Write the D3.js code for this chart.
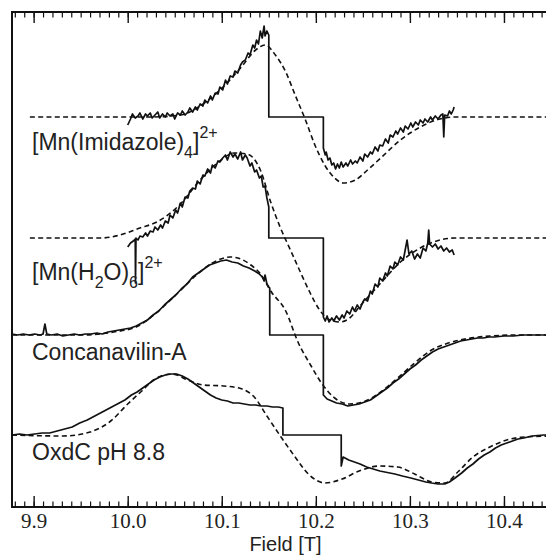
<!DOCTYPE html>
<html>
<head>
<meta charset="utf-8">
<script src="https://cdn.jsdelivr.net/npm/d3@7"></script>
<style>
  html, body { margin: 0; padding: 0; background: #fff; }
  svg { display: block; }
</style>
</head>
<body>
<svg id="chart" width="546" height="556"></svg>
<script>
// Field axis (tesla)
const fieldDomain = [9.877, 10.45];
const majorTicks = [9.9, 10.0, 10.1, 10.2, 10.3, 10.4];
const tickLabels = ["9.9", "10.0", "10.1", "10.2", "10.3", "10.4"];
const axisTitle = "Field [T]";

// Vertical offset of each spectrum (signal units)
const offsets = [3.90, 2.69, 1.72, 0.72];

// [Mn(Imidazole)4]2+ : measured [field, signal]
const imidazoleMeasured = [
  [10.000,-0.08],[10.003,-0.02],[10.005,0.03],[10.008,-0.01],[10.011,0.01],[10.013,0.04],
  [10.016,-0.02],[10.019,0.03],[10.021,0.01],[10.024,0.04],[10.026,-0.01],[10.029,0.02],
  [10.032,0.05],[10.034,-0.01],[10.037,0.03],[10.040,0.00],[10.042,0.04],[10.045,0.01],
  [10.048,0.03],[10.050,-0.02],[10.053,0.04],[10.056,0.02],[10.058,0.06],[10.061,0.02],
  [10.064,0.05],[10.066,0.09],[10.069,0.05],[10.072,0.10],[10.074,0.07],[10.077,0.13],
  [10.080,0.11],[10.082,0.17],[10.085,0.14],[10.088,0.21],[10.090,0.17],[10.093,0.24],
  [10.096,0.23],[10.098,0.30],[10.101,0.27],[10.104,0.37],[10.106,0.33],[10.109,0.41],
  [10.112,0.40],[10.114,0.46],[10.117,0.44],[10.120,0.52],[10.122,0.55],[10.125,0.57],
  [10.128,0.64],[10.130,0.62],[10.133,0.72],[10.135,0.69],[10.137,0.77],[10.139,0.73],
  [10.141,0.86],[10.143,0.79],[10.145,0.91],[10.146,0.81],[10.148,0.86],[10.150,0.82],
  [10.150,0.00],[10.208,0.00],
  [10.208,-0.31],[10.210,-0.38],[10.211,-0.35],[10.213,-0.43],[10.215,-0.41],[10.217,-0.48],
  [10.219,-0.46],[10.221,-0.52],[10.223,-0.47],[10.225,-0.51],[10.227,-0.45],[10.229,-0.50],
  [10.232,-0.46],[10.234,-0.49],[10.237,-0.43],[10.239,-0.47],[10.242,-0.44],[10.244,-0.46],
  [10.247,-0.40],[10.250,-0.44],[10.252,-0.37],[10.255,-0.40],[10.258,-0.35],[10.260,-0.37],
  [10.263,-0.30],[10.266,-0.34],[10.268,-0.28],[10.271,-0.29],[10.274,-0.22],[10.277,-0.26],
  [10.279,-0.18],[10.282,-0.20],[10.285,-0.14],[10.287,-0.17],[10.290,-0.11],[10.293,-0.15],
  [10.295,-0.09],[10.298,-0.12],[10.301,-0.06],[10.303,-0.10],[10.306,-0.05],[10.309,-0.08],
  [10.311,-0.03],[10.314,-0.06],[10.316,-0.02],[10.319,-0.05],[10.322,0.00],[10.324,-0.03],
  [10.327,0.01],[10.330,-0.02],[10.333,0.02],[10.335,0.03],[10.336,-0.20],[10.337,0.02],
  [10.340,0.01],[10.342,0.06],[10.344,0.03],[10.346,0.07],[10.347,0.10]
];
// [Mn(Imidazole)4]2+ : simulation
const imidazoleSimulated = [
  [9.896,0],[10.000,0],[10.024,0.00],[10.056,0.02],[10.077,0.11],[10.098,0.27],[10.120,0.49],
  [10.136,0.67],[10.146,0.72],[10.157,0.62],[10.168,0.45],[10.178,0.22],[10.189,-0.03],
  [10.199,-0.28],[10.210,-0.49],[10.220,-0.61],[10.229,-0.66],[10.242,-0.63],[10.255,-0.53],
  [10.269,-0.41],[10.290,-0.23],[10.311,-0.10],[10.332,-0.02],[10.348,0],[10.45,0]
];

// [Mn(H2O)6]2+ : measured
const aquaMeasured = [
  [10.000,-0.09],[10.003,-0.05],[10.006,-0.03],[10.008,-0.01],[10.0083,-0.45],[10.0088,0.00],
  [10.011,-0.02],[10.013,0.02],[10.016,0.01],[10.019,0.05],[10.021,0.02],[10.024,0.07],
  [10.027,0.06],[10.029,0.11],[10.032,0.08],[10.035,0.13],[10.037,0.10],[10.040,0.17],
  [10.043,0.15],[10.045,0.23],[10.048,0.20],[10.051,0.28],[10.053,0.25],[10.056,0.35],
  [10.058,0.31],[10.061,0.41],[10.064,0.40],[10.066,0.47],[10.069,0.50],[10.072,0.49],
  [10.074,0.57],[10.077,0.54],[10.080,0.63],[10.082,0.62],[10.085,0.69],[10.088,0.65],
  [10.090,0.73],[10.093,0.70],[10.096,0.77],[10.098,0.76],[10.101,0.80],[10.104,0.83],
  [10.106,0.78],[10.109,0.86],[10.112,0.81],[10.114,0.84],[10.117,0.79],[10.120,0.86],
  [10.122,0.78],[10.125,0.83],[10.127,0.80],[10.130,0.72],[10.132,0.75],[10.135,0.66],
  [10.137,0.68],[10.140,0.60],[10.142,0.62],[10.144,0.51],[10.146,0.52],[10.148,0.40],
  [10.150,0.31],[10.150,0.00],[10.208,0.00],
  [10.208,-0.79],[10.210,-0.83],[10.212,-0.78],[10.214,-0.84],[10.217,-0.80],[10.219,-0.83],
  [10.222,-0.78],[10.225,-0.82],[10.228,-0.77],[10.230,-0.80],[10.233,-0.73],[10.236,-0.76],
  [10.239,-0.69],[10.241,-0.73],[10.244,-0.67],[10.247,-0.71],[10.250,-0.64],[10.252,-0.61],
  [10.255,-0.63],[10.258,-0.53],[10.260,-0.56],[10.263,-0.46],[10.266,-0.49],[10.268,-0.40],
  [10.271,-0.43],[10.274,-0.35],[10.276,-0.38],[10.279,-0.28],[10.282,-0.31],[10.284,-0.24],
  [10.287,-0.27],[10.290,-0.19],[10.293,-0.22],[10.295,-0.12],[10.297,-0.02],[10.299,-0.16],
  [10.302,-0.13],[10.305,-0.21],[10.308,-0.16],[10.311,-0.20],[10.314,-0.10],[10.317,-0.13],
  [10.319,-0.05],[10.320,0.08],[10.321,-0.06],[10.324,-0.09],[10.327,-0.06],[10.330,-0.11],
  [10.333,-0.08],[10.336,-0.13],[10.339,-0.10],[10.342,-0.14],[10.345,-0.12],[10.347,-0.17]
];
// [Mn(H2O)6]2+ : simulation
const aquaSimulated = [
  [9.896,0],[9.971,0],[9.992,0.03],[10.013,0.10],[10.031,0.16],[10.056,0.34],[10.077,0.58],
  [10.098,0.77],[10.113,0.85],[10.127,0.84],[10.141,0.68],[10.152,0.36],[10.162,0.11],
  [10.173,-0.12],[10.184,-0.35],[10.194,-0.55],[10.204,-0.72],[10.215,-0.82],[10.226,-0.84],
  [10.236,-0.80],[10.247,-0.68],[10.269,-0.45],[10.290,-0.24],[10.311,-0.10],[10.332,-0.02],
  [10.348,0],[10.45,0]
];

// Concanavilin-A : measured
const conAMeasured = [
  [9.877,0.01],[9.883,0.00],[9.889,0.01],[9.895,0.00],[9.901,0.01],[9.907,0.00],[9.910,0.01],
  [9.912,0.11],[9.914,0.01],[9.919,0.00],[9.925,0.01],[9.931,-0.01],[9.937,0.00],[9.943,0.01],
  [9.949,0.00],[9.955,0.01],[9.961,0.01],[9.967,0.02],[9.973,0.01],[9.979,0.03],[9.985,0.04],
  [9.991,0.05],[9.997,0.06],[10.003,0.07],[10.009,0.09],[10.015,0.12],[10.021,0.15],
  [10.027,0.20],[10.033,0.24],[10.039,0.30],[10.045,0.35],[10.051,0.40],[10.057,0.46],
  [10.063,0.51],[10.069,0.58],[10.075,0.62],[10.081,0.66],[10.087,0.70],[10.093,0.72],
  [10.099,0.74],[10.105,0.75],[10.111,0.73],[10.117,0.72],[10.123,0.69],[10.129,0.67],
  [10.135,0.64],[10.140,0.61],[10.143,0.58],[10.145,0.54],[10.146,0.60],[10.148,0.51],
  [10.150,0.48],[10.151,0.47],[10.151,0.00],[10.208,0.00],
  [10.208,-0.60],[10.212,-0.64],[10.217,-0.66],[10.222,-0.68],[10.228,-0.69],[10.234,-0.71],
  [10.240,-0.70],[10.246,-0.69],[10.252,-0.67],[10.258,-0.65],[10.264,-0.61],[10.270,-0.57],
  [10.276,-0.53],[10.282,-0.48],[10.288,-0.44],[10.294,-0.39],[10.300,-0.34],[10.306,-0.30],
  [10.312,-0.25],[10.318,-0.21],[10.324,-0.17],[10.330,-0.14],[10.336,-0.12],[10.342,-0.10],
  [10.348,-0.08],[10.354,-0.06],[10.360,-0.05],[10.366,-0.04],[10.372,-0.03],[10.378,-0.03],
  [10.384,-0.02],[10.390,-0.02],[10.400,-0.01],[10.410,-0.01],[10.420,0.00],[10.430,0.00],
  [10.440,0.00],[10.450,0.00]
];
// Concanavilin-A : simulation
const conASimulated = [
  [9.877,0.00],[9.950,0.00],[9.985,0.03],[10.009,0.08],[10.029,0.21],[10.051,0.40],
  [10.073,0.60],[10.090,0.72],[10.109,0.78],[10.120,0.76],[10.131,0.70],[10.142,0.60],
  [10.152,0.44],[10.168,0.24],[10.181,-0.07],[10.195,-0.31],[10.206,-0.48],[10.220,-0.63],
  [10.236,-0.69],[10.250,-0.67],[10.269,-0.57],[10.287,-0.43],[10.305,-0.28],[10.323,-0.15],
  [10.341,-0.08],[10.362,-0.035],[10.385,-0.01],[10.413,0.00],[10.450,0.00]
];

// OxdC pH 8.8 : measured
const oxdcMeasured = [
  [9.877,0.00],[9.885,0.01],[9.893,0.00],[9.901,0.01],[9.909,0.02],[9.917,0.02],[9.925,0.04],
  [9.933,0.06],[9.941,0.08],[9.949,0.12],[9.957,0.15],[9.965,0.19],[9.973,0.23],[9.981,0.27],
  [9.989,0.31],[9.997,0.35],[10.004,0.40],[10.010,0.43],[10.016,0.47],[10.022,0.51],
  [10.028,0.55],[10.034,0.58],[10.040,0.60],[10.046,0.61],[10.052,0.61],[10.058,0.59],
  [10.064,0.56],[10.070,0.52],[10.076,0.48],[10.082,0.44],[10.088,0.40],[10.094,0.37],
  [10.100,0.35],[10.106,0.34],[10.112,0.32],[10.118,0.32],[10.124,0.31],[10.130,0.30],
  [10.136,0.30],[10.142,0.29],[10.148,0.29],[10.154,0.28],[10.160,0.28],[10.165,0.27],
  [10.165,0.00],[10.227,0.00],
  [10.227,-0.31],[10.229,-0.22],[10.235,-0.25],[10.241,-0.27],[10.247,-0.29],[10.254,-0.32],
  [10.261,-0.34],[10.268,-0.36],[10.276,-0.375],[10.284,-0.39],[10.292,-0.41],[10.301,-0.43],
  [10.309,-0.45],[10.317,-0.47],[10.323,-0.48],[10.330,-0.49],[10.337,-0.49],[10.342,-0.47],
  [10.348,-0.43],[10.355,-0.38],[10.361,-0.33],[10.367,-0.29],[10.373,-0.24],[10.379,-0.20],
  [10.385,-0.17],[10.391,-0.13],[10.397,-0.10],[10.403,-0.08],[10.409,-0.06],[10.415,-0.04],
  [10.421,-0.03],[10.430,-0.01],[10.442,0.00],[10.450,0.00]
];
// OxdC pH 8.8 : simulation
const oxdcSimulated = [
  [9.877,0.00],[9.931,-0.01],[9.960,0.03],[9.982,0.14],[10.000,0.31],[10.015,0.44],
  [10.029,0.56],[10.047,0.61],[10.065,0.545],[10.080,0.50],[10.102,0.49],[10.120,0.465],
  [10.135,0.375],[10.148,0.19],[10.163,-0.02],[10.178,-0.22],[10.192,-0.39],[10.210,-0.48],
  [10.228,-0.44],[10.246,-0.36],[10.268,-0.31],[10.287,-0.32],[10.305,-0.39],[10.323,-0.47],
  [10.337,-0.48],[10.352,-0.36],[10.367,-0.22],[10.385,-0.12],[10.403,-0.05],[10.421,-0.02],
  [10.450,-0.01]
];

const measured = [imidazoleMeasured, aquaMeasured, conAMeasured, oxdcMeasured];
const simulated = [imidazoleSimulated, aquaSimulated, conASimulated, oxdcSimulated];

// ---- layout ----
const W = 546, H = 556;
const plot = { left: 12, right: 551, top: 12, bottom: 507 };
const sans = "'Liberation Sans', Arial, Helvetica, sans-serif";
const serif = "'Liberation Serif', 'Times New Roman', Times, serif";
const ink = "#111";

const svg = d3.select("#chart");
svg.append("rect").attr("width", W).attr("height", H).attr("fill", "#fff");

const x = d3.scaleLinear().domain(fieldDomain).range([plot.left, plot.right]);
const y = d3.scaleLinear().domain([0, 4.95]).range([plot.bottom, plot.top]);

svg.append("defs").append("clipPath").attr("id", "plotClip")
  .append("rect")
  .attr("x", plot.left).attr("y", plot.top)
  .attr("width", plot.right - plot.left).attr("height", plot.bottom - plot.top);

// spectra: dashed simulation under the measured trace
const traces = svg.append("g").attr("clip-path", "url(#plotClip)");
offsets.forEach((off, i) => {
  const smooth = d3.line().x(d => x(d[0])).y(d => y(off + d[1])).curve(d3.curveMonotoneX);
  const raw = d3.line().x(d => x(d[0])).y(d => y(off + d[1]));
  traces.append("path")
    .attr("d", smooth(simulated[i]))
    .attr("fill", "none").attr("stroke", ink)
    .attr("stroke-width", 1.6).attr("stroke-dasharray", "5,3.3");
  traces.append("path")
    .attr("d", raw(measured[i]))
    .attr("fill", "none").attr("stroke", ink)
    .attr("stroke-width", 1.7).attr("stroke-linejoin", "round");
});

// minor ticks every 0.01 T
const minorTicks = d3.range(988, 1046).map(v => v / 100);

// bottom axis (ticks pointing inward)
const bottomAxis = d3.axisBottom(x).tickValues(majorTicks)
  .tickSize(-11).tickPadding(6)
  .tickFormat((d, i) => tickLabels[i]);
const gb = svg.append("g").attr("transform", `translate(0,${plot.bottom})`).call(bottomAxis);
gb.select(".domain").remove();
gb.selectAll(".tick line").attr("stroke", ink).attr("stroke-width", 1.4);
gb.selectAll(".tick text").attr("font-family", serif).attr("font-size", 21)
  .attr("fill", "#222").attr("dy", "0.71em");
const gbm = svg.append("g").attr("transform", `translate(0,${plot.bottom})`)
  .call(d3.axisBottom(x).tickValues(minorTicks).tickSize(-5.5).tickFormat(""));
gbm.select(".domain").remove();
gbm.selectAll(".tick line").attr("stroke", ink).attr("stroke-width", 1.2);

// top axis (ticks pointing inward)
const gt = svg.append("g").attr("transform", `translate(0,${plot.top})`)
  .call(d3.axisTop(x).tickValues(majorTicks).tickSize(-11).tickFormat(""));
gt.select(".domain").remove();
gt.selectAll(".tick line").attr("stroke", ink).attr("stroke-width", 1.4);
const gtm = svg.append("g").attr("transform", `translate(0,${plot.top})`)
  .call(d3.axisTop(x).tickValues(minorTicks).tickSize(-5.5).tickFormat(""));
gtm.select(".domain").remove();
gtm.selectAll(".tick line").attr("stroke", ink).attr("stroke-width", 1.2);

// frame
svg.append("path")
  .attr("d", `M${plot.right},${plot.top}H${plot.left}V${plot.bottom}H${plot.right}`)
  .attr("fill", "none").attr("stroke", ink).attr("stroke-width", 2);

// axis title
svg.append("text")
  .attr("x", 285.5).attr("y", 551)
  .attr("text-anchor", "middle")
  .attr("font-family", sans).attr("font-size", 20).attr("fill", "#222")
  .text(axisTitle);

// sample labels: runs of [text, role] where role is main / sub / sup
const sampleLabels = [
  [["[Mn(Imidazole)", "main"], ["4", "sub"], ["]", "main"], ["2+", "sup"]],
  [["[Mn(H", "main"], ["2", "sub"], ["O)", "main"], ["6", "sub"], ["]", "main"], ["2+", "sup"]],
  [["Concanavilin-A", "main"]],
  [["OxdC pH 8.8", "main"]]
];
const labelBaselines = [150, 280, 360, 460];
const shift = { main: 0, sub: 8, sup: -12 };
const size = { main: 23, sub: 16, sup: 16 };

sampleLabels.forEach((runs, i) => {
  const t = svg.append("text")
    .attr("x", 32).attr("y", labelBaselines[i])
    .attr("font-family", sans).attr("fill", "#222");
  let prev = 0;
  runs.forEach(([txt, role]) => {
    t.append("tspan")
      .attr("dy", shift[role] - prev)
      .attr("font-size", size[role])
      .text(txt);
    prev = shift[role];
  });
});
</script>
</body>
</html>
